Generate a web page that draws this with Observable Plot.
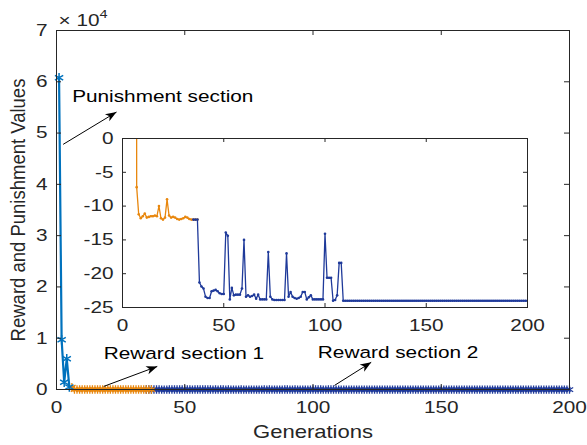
<!DOCTYPE html>
<html><head><meta charset="utf-8">
<script src="https://cdn.jsdelivr.net/npm/d3@7"></script>
<script src="https://cdn.jsdelivr.net/npm/@observablehq/plot@0.6"></script>
<style>
body{margin:0;background:#fff;}
#chart{position:relative;width:587px;height:445px;background:#fff;}
#chart svg{position:absolute;left:0;top:0;}
</style></head><body><div id="chart"></div>
<script>
// ---------- data ----------
const punishStart = 1;
const punishVals = [60800, 9700, 1400, 6000, 500];

const reward1Start = 6;
const reward1Vals = [450, -7.2, -11.2, -11.8, -11.5, -11.1, -11.7, -11.6, -11.5, -11.5,
  -11.4, -11.5, -10.0, -11.8, -12.0, -11.7, -9.0, -11.4, -11.7, -11.6,
  -11.7, -11.9, -12.0, -11.9, -11.8, -11.6, -11.7, -11.9, -12.0, -12.0,
  -12.0, -12.0];

const reward2Start = 35;
const reward2Vals = [
  -12.0, -12.0, -12.0, -21.3, -21.9, -22.2, -23.4, -23.6, -23.6, -22.6,
  -22.5, -22.4, -22.6, -22.9, -23.0, -23.0, -13.9, -14.4, -23.8, -22.1,
  -23.2, -23.1, -23.1, -23.1, -22.2, -15.0, -23.4, -23.2, -23.4, -23.3,
  -23.1, -23.7, -23.1, -23.8, -23.8, -23.8, -23.8, -16.8, -23.4, -23.8,
  -23.9, -23.9, -23.9, -23.9, -23.9, -23.9, -17.0, -23.4, -22.7, -23.4,
  -23.6, -23.7, -23.6, -23.4, -22.7, -22.7, -23.8, -23.5, -23.2, -23.8,
  -23.8, -23.8, -23.8, -23.8, -23.8, -14.1, -20.6, -20.6, -20.6, -24.0,
  -23.9, -23.2, -18.4, -18.4, -24.0,
  -24.0, -24.0, -24.0, -24.0, -24.0, -24.0, -24.0, -24.0, -24.0, -24.0,
  -24.0, -24.0, -24.0, -24.0, -24.0, -24.0, -24.0, -24.0, -24.0, -24.0,
  -24.0, -24.0, -24.0, -24.0, -24.0, -24.0, -24.0, -24.0, -24.0, -24.0,
  -24.0, -24.0, -24.0, -24.0, -24.0, -24.0, -24.0, -24.0, -24.0, -24.0,
  -24.0, -24.0, -24.0, -24.0, -24.0, -24.0, -24.0, -24.0, -24.0, -24.0,
  -24.0, -24.0, -24.0, -24.0, -24.0, -24.0, -24.0, -24.0, -24.0, -24.0,
  -24.0, -24.0, -24.0, -24.0, -24.0, -24.0, -24.0, -24.0, -24.0, -24.0,
  -24.0, -24.0, -24.0, -24.0, -24.0, -24.0, -24.0, -24.0, -24.0, -24.0,
  -24.0, -24.0, -24.0, -24.0, -24.0, -24.0, -24.0, -24.0, -24.0, -24.0,
  -24.0];

const mainXTicks = [0, 50, 100, 150, 200];
const mainYTicks = [0, 10000, 20000, 30000, 40000, 50000, 60000, 70000];
const insetXTicks = [0, 50, 100, 150, 200];
const insetYTicks = [-25, -20, -15, -10, -5, 0];

const xLabel = "Generations";
const yLabel = "Reward and Punishment Values";
const expBase = "× 10";
const expPow = "4";

const notes = [
  {text: "Punishment section", x: 6.1, y: 57050},
  {text: "Reward section 1", x: 18.4, y: 7000},
  {text: "Reward section 2", x: 101.9, y: 7250}
];
const arrows = [
  {x1: 2.6, y1: 47800, x2: 23.4, y2: 54100},
  {x1: 18.4, y1: 600, x2: 39.3, y2: 4500},
  {x1: 108.4, y1: 800, x2: 122.7, y2: 5300}
];

// ---------- build tables ----------
const toRows = (start, vals) => vals.map((v, i) => ({g: start + i, v}));
const punish = toRows(punishStart, punishVals);
const reward1 = toRows(reward1Start, reward1Vals);
const reward2 = toRows(reward2Start, reward2Vals);

const W = 587, H = 445;
const font = "'Liberation Sans', Arial, Helvetica, sans-serif";
const ink = "#262626";
const cPunish = "#0072BD", cR1 = "#E8870E", cR2 = "#1F3A9A";

const mM = {left: 56, right: 18, top: 30, bottom: 56};
const mPW = W - mM.left - mM.right, mPH = H - mM.top - mM.bottom;
const iM = {left: 122, right: 60, top: 138, bottom: 138};
const iPW = W - iM.left - iM.right, iPH = H - iM.top - iM.bottom;

function arrowHead(color, context) {
  const doc = (context && context.document) || document;
  const ns = "http://www.w3.org/2000/svg";
  const m = doc.createElementNS(ns, "marker");
  m.setAttribute("viewBox", "-12 -6 12 12");
  m.setAttribute("markerWidth", "12");
  m.setAttribute("markerHeight", "12");
  m.setAttribute("markerUnits", "userSpaceOnUse");
  m.setAttribute("orient", "auto");
  m.setAttribute("refX", "0");
  m.setAttribute("refY", "0");
  const p = doc.createElementNS(ns, "path");
  p.setAttribute("d", "M0,0L-11,-4.2L-8,0L-11,4.2Z");
  p.setAttribute("fill", color);
  p.setAttribute("stroke", "none");
  m.appendChild(p);
  return m;
}

const mainPlot = Plot.plot({
  width: W, height: H,
  marginLeft: mM.left, marginRight: mM.right, marginTop: mM.top, marginBottom: mM.bottom,
  style: {fontFamily: font, fontSize: "16.5px", color: ink, background: "white", overflow: "visible"},
  x: {domain: [0, 200], ticks: mainXTicks, tickSize: 0, tickPadding: 12, label: null},
  y: {domain: [0, 70000], ticks: mainYTicks, tickSize: 0, tickPadding: 9, tickFormat: d => String(d / 10000), label: null},
  marks: [
    Plot.line(reward2, {x: "g", y: "v", stroke: cR2, strokeWidth: 1.8}),
    Plot.dot(reward2, {x: "g", y: "v", symbol: "asterisk", r: 4, stroke: cR2, strokeWidth: 1.3}),
    Plot.line(reward1, {x: "g", y: "v", stroke: cR1, strokeWidth: 1.8}),
    Plot.dot(reward1, {x: "g", y: "v", symbol: "asterisk", r: 4, stroke: cR1, strokeWidth: 1.3}),
    Plot.line(punish, {x: "g", y: "v", stroke: cPunish, strokeWidth: 2.2}),
    Plot.dot(punish, {x: "g", y: "v", symbol: "asterisk", r: 4.5, stroke: cPunish, strokeWidth: 1.5}),
    Plot.frame({stroke: ink, strokeWidth: 1}),
    Plot.ruleY(mainYTicks, {insetRight: mPW - 5, stroke: ink}),
    Plot.ruleY(mainYTicks, {insetLeft: mPW - 5, stroke: ink}),
    Plot.ruleX(mainXTicks, {insetTop: mPH - 5, stroke: ink}),
    Plot.ruleX(mainXTicks, {insetBottom: mPH - 5, stroke: ink}),
    Plot.link(arrows, {x1: "x1", y1: "y1", x2: "x2", y2: "y2", stroke: "#000", strokeWidth: 1, markerEnd: arrowHead}),
    Plot.text(notes, {x: "x", y: "y", text: "text", textAnchor: "start", lineAnchor: "middle", fill: "#000", fontSize: 16.5}),
    Plot.text([xLabel], {frameAnchor: "bottom", textAnchor: "middle", lineAnchor: "middle", dy: 43, fill: ink, fontSize: 17.5}),
    Plot.text([yLabel], {frameAnchor: "left", textAnchor: "middle", lineAnchor: "middle", dx: -38, rotate: -90, fill: ink, fontSize: 18.5}),
    Plot.text([expBase], {frameAnchor: "top-left", textAnchor: "start", lineAnchor: "middle", dx: 2, dy: -10, fill: ink, fontSize: 16.5}),
    Plot.text([expPow], {frameAnchor: "top-left", textAnchor: "start", lineAnchor: "middle", dx: 43, dy: -16.5, fill: ink, fontSize: 11.5})
  ]
});

const insetPlot = Plot.plot({
  width: W, height: H,
  marginLeft: iM.left, marginRight: iM.right, marginTop: iM.top, marginBottom: iM.bottom,
  style: {fontFamily: font, fontSize: "16.5px", color: ink, background: "transparent", overflow: "visible"},
  x: {domain: [0, 200], ticks: insetXTicks, tickSize: 0, tickPadding: 12, label: null},
  y: {domain: [-25, 0], ticks: insetYTicks, tickSize: 0, tickPadding: 9, tickFormat: d => String(d), label: null},
  marks: [
    Plot.frame({fill: "white", stroke: "none"}),
    Plot.line(reward1, {x: "g", y: "v", stroke: cR1, strokeWidth: 1.3, clip: true}),
    Plot.dot(reward1, {x: "g", y: "v", r: 1.3, fill: cR1, clip: true}),
    Plot.line(reward2, {x: "g", y: "v", stroke: cR2, strokeWidth: 1.3, clip: true}),
    Plot.dot(reward2, {x: "g", y: "v", r: 1.3, fill: cR2, clip: true}),
    Plot.frame({stroke: ink, strokeWidth: 1}),
    Plot.ruleY(insetYTicks, {insetRight: iPW - 4, stroke: ink}),
    Plot.ruleY(insetYTicks, {insetLeft: iPW - 4, stroke: ink}),
    Plot.ruleX(insetXTicks, {insetTop: iPH - 4, stroke: ink}),
    Plot.ruleX(insetXTicks, {insetBottom: iPH - 4, stroke: ink})
  ]
});
insetPlot.style.background = "transparent";

const host = document.getElementById("chart");
host.appendChild(mainPlot);
host.appendChild(insetPlot);

// the reference glyphs are horizontally stretched: widen text around its anchor
for (const svg of [mainPlot, insetPlot]) {
  svg.querySelectorAll("text").forEach(t => {
    const tr = t.getAttribute("transform") || "";
    t.setAttribute("transform", tr + (tr.includes("rotate") ? " scale(1,1.1)" : " scale(1.26,1)"));
  });
}
</script></body></html>
